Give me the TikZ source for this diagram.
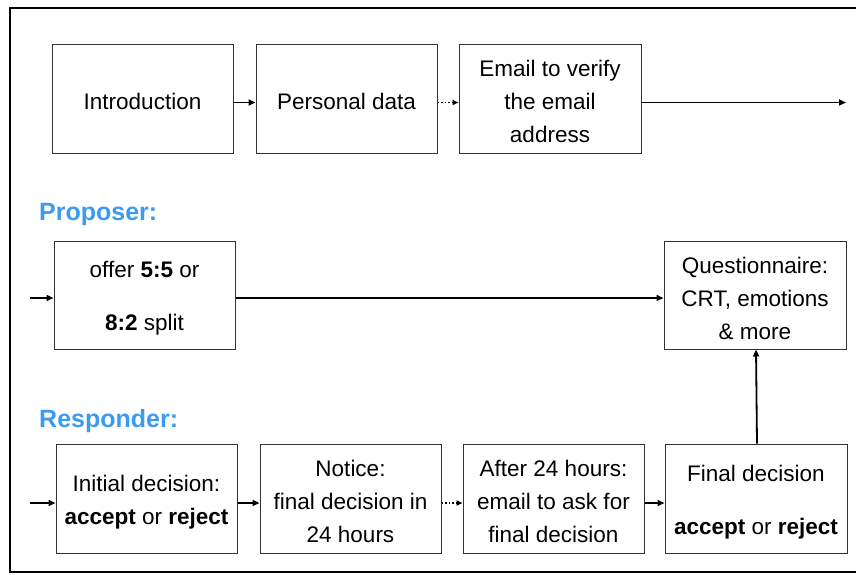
\documentclass[tikz,border=0pt]{standalone}
\usepackage{fontspec}
\setmainfont{Liberation Sans}
\usetikzlibrary{arrows.meta}
\definecolor{lblue}{RGB}{60,155,240}
\definecolor{boxline}{RGB}{50,50,50}
\newcommand{\dnstrut}{\rule{0pt}{23pt}}
\tikzset{
  stepbox/.style={draw=boxline, line width=1pt, rectangle, minimum height=109pt, inner sep=2pt, align=center, font=\fontsize{22.5}{33}\selectfont},
  conn/.style={line width=1.8pt, -{Triangle[length=7pt,width=6pt]}},
  dconn/.style={line width=1.6pt, dotted, -{Triangle[length=6pt,width=5pt]}},
  role/.style={text=lblue, font=\fontsize{25}{30}\selectfont\bfseries, inner sep=0pt, anchor=west}
}
\begin{document}
\begin{tikzpicture}[x=1pt,y=-1pt]
\useasboundingbox (0,0) rectangle (856,574);
\clip (0,0) rectangle (856,574);
\draw[line width=2.5pt] (10,8) rectangle (870,572);

% row 1
\node[stepbox, minimum width=181pt] (intro) at (142.5,98.5) {\dnstrut Introduction};
\node[stepbox, minimum width=181pt] (pers) at (346.5,98.5) {\dnstrut Personal data};
\node[stepbox, minimum width=182pt] (email) at (550,98.5) {\dnstrut Email to verify\\the email\\address};
\coordinate (out1) at (846,102.5);

% row 2
\node[role] (prop) at (39,214) {Proposer:};
\node[stepbox, minimum width=181pt, minimum height=108pt] (offer) at (144.5,295) {\dnstrut offer \textbf{5:5} or\\[20pt]\textbf{8:2} split};
\node[stepbox, minimum width=182pt, minimum height=108pt] (quest) at (755,295) {\dnstrut Questionnaire:\\CRT, emotions\\\& more};
\coordinate (in2) at (30,298);

% row 3
\node[role] (resp) at (39,421) {Responder:};
\node[stepbox, minimum width=181pt] (init) at (146.5,498.5) {\dnstrut Initial decision:\\\textbf{accept} or \textbf{reject}};
\node[stepbox, minimum width=181pt] (notice) at (350.5,498.5) {\dnstrut Notice:\\final decision in\\24 hours};
\node[stepbox, minimum width=181pt] (after) at (553.5,498.5) {\dnstrut After 24 hours:\\email to ask for\\final decision};
\node[stepbox, minimum width=182pt] (final) at (756,498.5) {\dnstrut Final decision\\[20pt]\textbf{accept} or \textbf{reject}};
\coordinate (in3) at (30,503);

% connectors
\draw[conn] ([yshift=-4pt]intro.east) -- ([yshift=-4pt]pers.west);
\draw[dconn] ([yshift=-4pt]pers.east) -- ([yshift=-4pt]email.west);
\draw[conn] ([yshift=-4pt]email.east) -- (out1);

\draw[conn] (in2) -- (offer.west |- in2);
\draw[conn] ([yshift=-3pt]offer.east) -- ([yshift=-3pt]quest.west);

\draw[conn] (in3) -- (init.west |- in3);
\draw[conn] ([yshift=-4.5pt]init.east) -- ([yshift=-4.5pt]notice.west);
\draw[dconn] ([yshift=-4.5pt]notice.east) -- ([yshift=-4.5pt]after.west);
\draw[conn] ([yshift=-4.5pt]after.east) -- ([yshift=-4.5pt]final.west);
\draw[conn] ([xshift=1pt]final.north) -- ([xshift=1pt]quest.south);
\end{tikzpicture}
\end{document}
